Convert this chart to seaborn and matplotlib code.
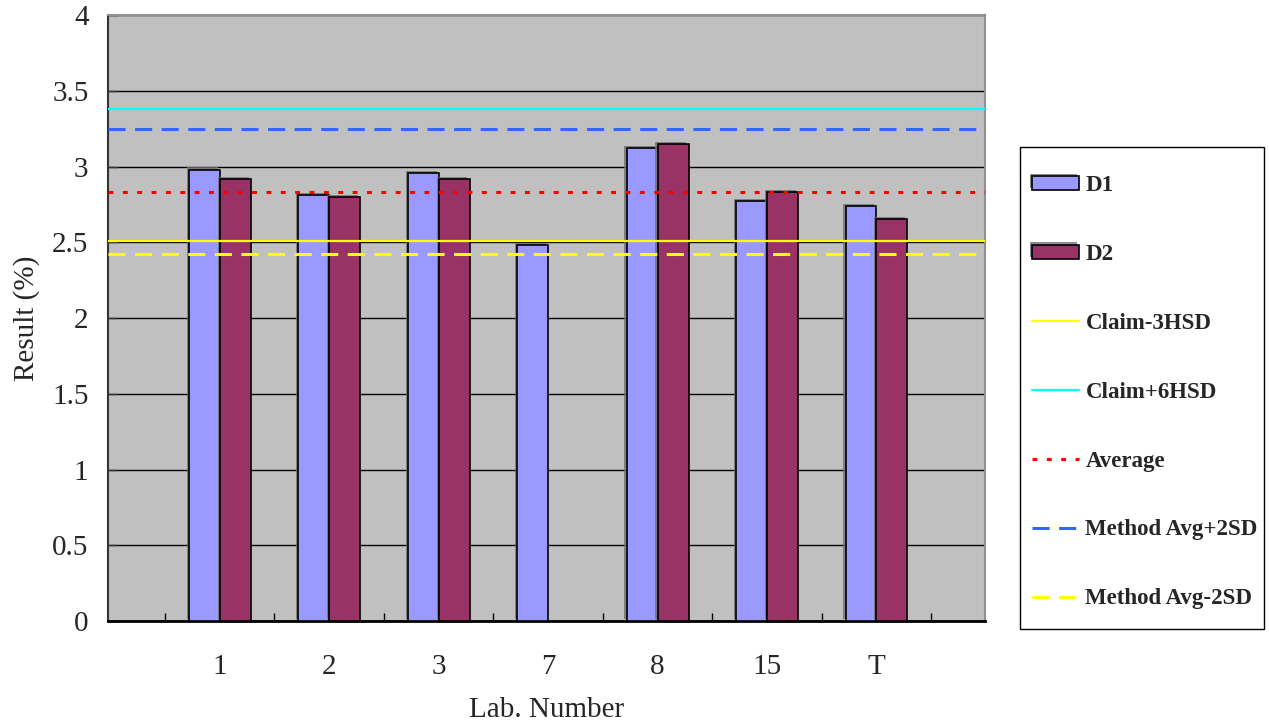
import numpy as np
import pandas as pd
import seaborn as sns
import matplotlib.pyplot as plt
import matplotlib.patheffects as pe
from matplotlib.patches import Rectangle
from matplotlib.ticker import FixedLocator, FuncFormatter

# data
labs = ["1", "2", "3", "7", "8", "15", "T"]
d1 = [2.98, 2.81, 2.955, 2.48, 3.12, 2.77, 2.74]
d2 = [2.92, 2.80, 2.92, np.nan, 3.15, 2.83, 2.655]

claim_minus_3hsd = 2.51
claim_plus_6hsd = 3.38
average = 2.83
method_plus_2sd = 3.245
method_minus_2sd = 2.42

df = pd.DataFrame({
    "Lab": labs * 2,
    "Result": d1 + d2,
    "Series": ["D1"] * len(labs) + ["D2"] * len(labs),
})

sns.set_style("white")
plt.rcParams['font.family'] = ['Liberation Serif', 'DejaVu Serif']

fig = plt.figure(figsize=(12.69, 7.26), dpi=100)
ax = fig.add_axes([0.0851, 0.1446, 0.691, 0.8347])
ax.set_facecolor("#C0C0C0")

sns.barplot(data=df, x="Lab", y="Result", hue="Series", order=labs,
            palette={"D1": "#9999FF", "D2": "#993366"}, width=0.566,
            gap=0, edgecolor="black", linewidth=1.2, saturation=1,
            ax=ax, zorder=3)

for p in ax.patches:
    p.set_path_effects([pe.SimplePatchShadow(offset=(-1.5, 1.5), shadow_rgbFace="#707070", alpha=0.8), pe.Normal()])

# horizontal reference lines
ax.axhline(claim_minus_3hsd, color="#FFFF00", lw=1.6, label="Claim-3HSD", zorder=4)
ax.axhline(claim_plus_6hsd, color="#00FFFF", lw=1.6, label="Claim+6HSD", zorder=4)
ax.axhline(average, color="#FF0000", lw=2.2, dashes=(1.6, 3.1), label="Average", zorder=4)
ax.axhline(method_plus_2sd, color="#3366FF", lw=2.2, dashes=(5.6, 3.1), label="Method Avg+2SD", zorder=4)
ax.axhline(method_minus_2sd, color="#FFFF00", lw=2.2, dashes=(5.6, 3.1), label="Method Avg-2SD", zorder=4)

ax.set_ylim(0, 4)
ax.set_xlim(-1.02, 6.99)
ax.yaxis.set_major_locator(FixedLocator(np.arange(0, 4.01, 0.5)))
ax.yaxis.set_major_formatter(FuncFormatter(lambda v, _: "%g" % v))
ax.grid(axis="y", color="black", lw=1, zorder=1)
ax.set_axisbelow(True)

ax.xaxis.set_minor_locator(FixedLocator(np.arange(-0.5, 7, 1.0)))
ax.tick_params(axis="x", which="major", length=0, labelsize=21, pad=24)
ax.tick_params(axis="x", which="minor", direction="in", length=6, width=1, color="black", bottom=True)
ax.tick_params(axis="y", direction="in", length=7, width=1, color="#333333", left=True, labelsize=21, pad=14)

for s in ["top", "right"]:
    ax.spines[s].set_color("#909090")
    ax.spines[s].set_linewidth(1.5)
ax.spines["left"].set_color("#333333")
ax.spines["left"].set_linewidth(1.5)
ax.spines["bottom"].set_color("black")
ax.spines["bottom"].set_linewidth(2)

ax.set_xlabel("Lab. Number", fontsize=21, labelpad=12)
ax.set_ylabel("Result (%)", fontsize=21, labelpad=9)

handles, labels = ax.get_legend_handles_labels()
ax.get_legend().remove()

# legend box drawn separately so the padding matches
fig.patches.append(Rectangle((1020 / 1269, 1 - 629 / 726), 244 / 1269, 482 / 726,
                             transform=fig.transFigure, facecolor="white",
                             edgecolor="black", lw=1, zorder=0))
leg = fig.legend(handles, labels, loc="upper left",
                 bbox_to_anchor=(1032 / 1269, 1 - 175 / 726),
                 bbox_transform=fig.transFigure, frameon=False,
                 prop={"weight": "bold", "size": 16.5},
                 labelspacing=2.09, handlelength=2.05, handleheight=0.6,
                 handletextpad=0.28, borderpad=0, borderaxespad=0)

fig.savefig("out.png", dpi=100)
